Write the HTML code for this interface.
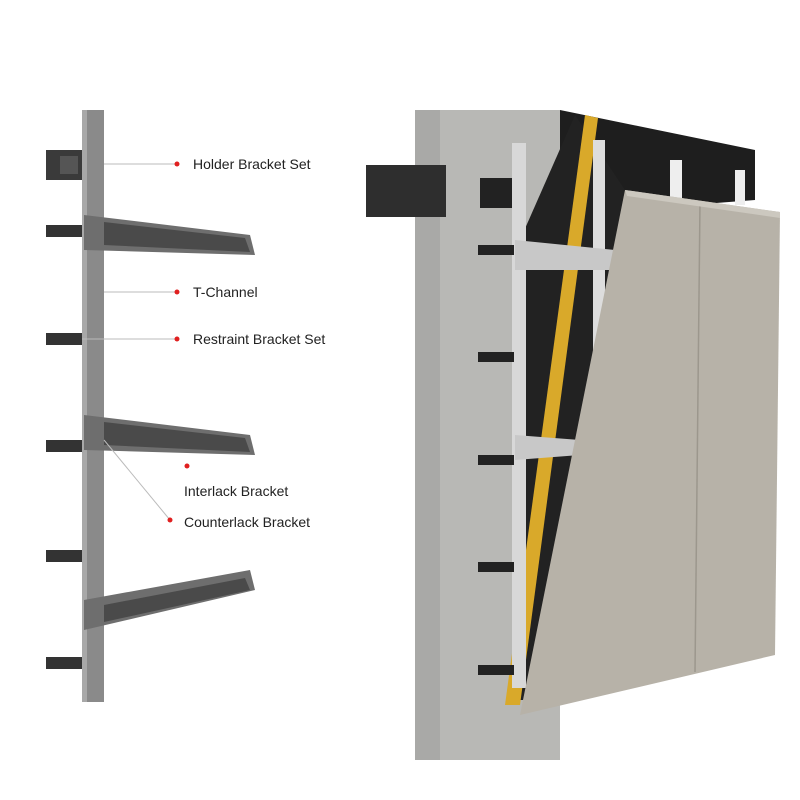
<!DOCTYPE html>
<html><head><meta charset="utf-8"><style>
html,body{margin:0;padding:0;background:#fff;}
svg{display:block}
text{font-family:"Liberation Sans",sans-serif;font-size:14px;fill:#222}
</style></head><body>
<svg width="800" height="800" viewBox="0 0 800 800">
<!-- Left assembly -->
<rect x="82" y="110" width="22" height="592" fill="#8a8a8a"/>
<rect x="82" y="110" width="5" height="592" fill="#a8a8a8"/>
<!-- holder bracket -->
<rect x="46" y="150" width="36" height="30" fill="#3a3a3a"/>
<rect x="60" y="156" width="18" height="18" fill="#555"/>
<!-- channels -->
<g fill="#6e6e6e">
<polygon points="84,215 250,235 255,255 84,250"/>
<polygon points="84,415 250,435 255,455 84,450"/>
<polygon points="84,600 250,570 255,590 84,630"/>
</g>
<g fill="#4a4a4a">
<polygon points="104,222 245,238 250,252 104,245"/>
<polygon points="104,422 245,438 250,452 104,445"/>
<polygon points="104,605 245,578 250,590 104,622"/>
</g>
<g fill="#333">
<rect x="46" y="225" width="36" height="12"/>
<rect x="46" y="333" width="36" height="12"/>
<rect x="46" y="440" width="36" height="12"/>
<rect x="46" y="550" width="36" height="12"/>
<rect x="46" y="657" width="36" height="12"/>
</g>
<!-- leader lines -->
<g stroke="#bbb" stroke-width="1">
<line x1="104" y1="164" x2="175" y2="164"/>
<line x1="104" y1="292" x2="175" y2="292"/>
<line x1="82" y1="339" x2="175" y2="339"/>
<line x1="104" y1="440" x2="170" y2="520"/>
</g>
<g fill="#e02020">
<circle cx="177" cy="164" r="2.5"/><circle cx="177" cy="292" r="2.5"/>
<circle cx="177" cy="339" r="2.5"/><circle cx="187" cy="466" r="2.5"/>
<circle cx="170" cy="520" r="2.5"/>
</g>
<text x="193" y="169">Holder Bracket Set</text>
<text x="193" y="297">T-Channel</text>
<text x="193" y="344">Restraint Bracket Set</text>
<text x="184" y="496">Interlack Bracket</text>
<text x="184" y="527">Counterlack Bracket</text>
<!-- Right: wall -->
<polygon points="415,110 560,110 560,760 415,760" fill="#a9a9a7"/>
<polygon points="440,110 560,110 560,760 440,760" fill="#b8b8b5"/>
<rect x="366" y="165" width="80" height="52" fill="#2e2e2e"/>
<polygon points="560,110 755,150 755,200 560,215" fill="#1e1e1e"/>
<!-- black membrane -->
<polygon points="575,115 625,190 560,700 520,700 520,240" fill="#222"/>
<!-- yellow insulation -->
<polygon points="585,115 598,118 520,705 505,705" fill="#d9a92a"/>
<!-- rails -->
<rect x="512" y="143" width="14" height="545" fill="#d8d8d8"/>
<rect x="593" y="140" width="12" height="240" fill="#ddd"/>
<rect x="670" y="160" width="12" height="40" fill="#eee"/>
<rect x="735" y="170" width="10" height="35" fill="#eee"/>
<g fill="#222">
<rect x="478" y="245" width="36" height="10"/><rect x="478" y="352" width="36" height="10"/>
<rect x="478" y="455" width="36" height="10"/><rect x="478" y="562" width="36" height="10"/>
<rect x="478" y="665" width="36" height="10"/><rect x="480" y="178" width="32" height="30"/>
</g>
<g fill="#c8c8c8">
<polygon points="515,240 615,250 615,270 515,270"/>
<polygon points="515,435 580,440 580,455 515,460"/>
</g>
<!-- panel -->
<polygon points="625,190 780,212 775,655 520,715" fill="#b7b2a8"/>
<line x1="700" y1="202" x2="695" y2="672" stroke="#9c978d" stroke-width="1.5"/>
<polygon points="625,190 780,212 780,218 627,196" fill="#ccc8bf"/>
</svg>
</body></html>
